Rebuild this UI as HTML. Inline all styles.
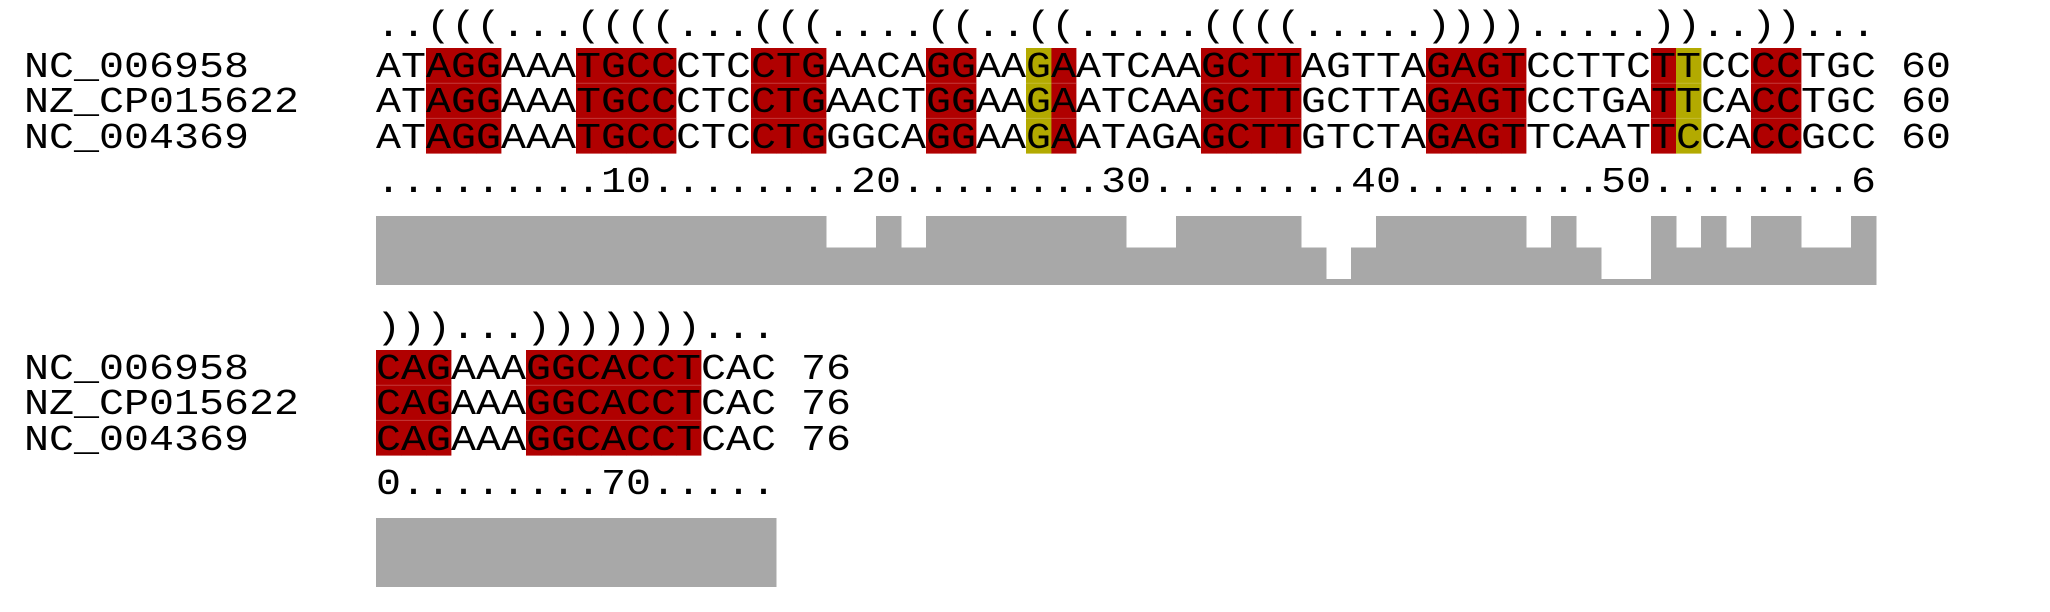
<!DOCTYPE html>
<html><head><meta charset="utf-8"><style>
html,body{margin:0;padding:0;background:#fff;width:2050px;height:612px;overflow:hidden}
text{font-family:"Liberation Mono","DejaVu Sans Mono",monospace;font-size:36px;fill:#000}
</style></head><body>
<svg id="chart" width="2050" height="612" viewBox="0 0 2050 612" xmlns="http://www.w3.org/2000/svg">
<g id="hl"></g>
<g id="cons"></g>
<g>
<text x="376" y="36" textLength="1500" lengthAdjust="spacingAndGlyphs">..(((...((((...(((....((..((.....((((.....)))).....))..))...</text>
<text x="24" y="77" textLength="225" lengthAdjust="spacingAndGlyphs">NC_006958</text>
<text x="24" y="112" textLength="275" lengthAdjust="spacingAndGlyphs">NZ_CP015622</text>
<text x="24" y="148" textLength="225" lengthAdjust="spacingAndGlyphs">NC_004369</text>
<text x="376" y="77" textLength="1575" lengthAdjust="spacingAndGlyphs">ATAGGAAATGCCCTCCTGAACAGGAAGAATCAAGCTTAGTTAGAGTCCTTCTTCCCCTGC 60</text>
<text x="376" y="112" textLength="1575" lengthAdjust="spacingAndGlyphs">ATAGGAAATGCCCTCCTGAACTGGAAGAATCAAGCTTGCTTAGAGTCCTGATTCACCTGC 60</text>
<text x="376" y="148" textLength="1575" lengthAdjust="spacingAndGlyphs">ATAGGAAATGCCCTCCTGGGCAGGAAGAATAGAGCTTGTCTAGAGTTCAATTCCACCGCC 60</text>
<text x="376" y="192" textLength="1500" lengthAdjust="spacingAndGlyphs">.........10........20........30........40........50........6</text>
</g>
<g>
<text x="376" y="338" textLength="400" lengthAdjust="spacingAndGlyphs">)))...)))))))...</text>
<text x="24" y="379" textLength="225" lengthAdjust="spacingAndGlyphs">NC_006958</text>
<text x="24" y="414" textLength="275" lengthAdjust="spacingAndGlyphs">NZ_CP015622</text>
<text x="24" y="450" textLength="225" lengthAdjust="spacingAndGlyphs">NC_004369</text>
<text x="376" y="379" textLength="475" lengthAdjust="spacingAndGlyphs">CAGAAAGGCACCTCAC 76</text>
<text x="376" y="414" textLength="475" lengthAdjust="spacingAndGlyphs">CAGAAAGGCACCTCAC 76</text>
<text x="376" y="450" textLength="475" lengthAdjust="spacingAndGlyphs">CAGAAAGGCACCTCAC 76</text>
<text x="376" y="494" textLength="400" lengthAdjust="spacingAndGlyphs">0........70.....</text>
</g>
</svg>
<script>
// column indices (1-based) of base-pair highlights
const redCols = [3,4,5,9,10,11,12,16,17,18,23,24,28,34,35,36,37,43,44,45,46,52,56,57,61,62,63,67,68,69,70,71,72,73];
const yellowCols = [27,53];
// conservation score per column: 3 = identical, 2 = two agree, 1 = all differ
const conservation = [3,3,3,3,3,3,3,3,3,3,3,3,3,3,3,3,3,3,2,2,3,2,3,3,3,3,3,3,3,3,2,2,3,3,3,3,3,2,1,2,3,3,3,3,3,3,2,3,2,1,1,3,2,3,2,3,3,2,2,3,
3,3,3,3,3,3,3,3,3,3,3,3,3,3,3,3];
const colsPerBlock = 60, colW = 25, x0 = 376;
const blockY = [0, 302];
const boxTop = 48, rowH = 35.2, nRows = 3;
const barBottom = 285;
function colX(c){ return x0 + ((c-1) % colsPerBlock) * colW; }
function colBlock(c){ return Math.floor((c-1)/colsPerBlock); }
function barH(v){ return 6 + (v-1)/2*63; }
const NS = 'http://www.w3.org/2000/svg';
const hl = document.getElementById('hl');
function addCell(c, color){
  const by = blockY[colBlock(c)];
  const r = document.createElementNS(NS,'rect');
  r.setAttribute('x', colX(c)); r.setAttribute('y', by+boxTop);
  r.setAttribute('width', colW+0.4); r.setAttribute('height', rowH*nRows);
  r.setAttribute('fill', color);
  
  
  hl.appendChild(r);
  for (let k=1;k<nRows;k++){
    const l = document.createElementNS(NS,'line');
    l.setAttribute('x1', colX(c)); l.setAttribute('x2', colX(c)+colW);
    l.setAttribute('y1', by+boxTop+k*rowH); l.setAttribute('y2', by+boxTop+k*rowH);
    l.setAttribute('stroke', color==='#b00000' ? '#c43a3a' : '#c4bb33'); l.setAttribute('stroke-width','1');
    
    
    hl.appendChild(l);
  }
}
redCols.forEach(c=>addCell(c,'#b00000'));
yellowCols.forEach(c=>addCell(c,'#b3aa00'));
const cons = document.getElementById('cons');
conservation.forEach((v,i)=>{
  const c = i+1, by = blockY[colBlock(c)], h = barH(v);
  const r = document.createElementNS(NS,'rect');
  r.setAttribute('x', colX(c)); r.setAttribute('y', by+barBottom-h);
  r.setAttribute('width', colW+0.5); r.setAttribute('height', h);
  r.setAttribute('fill', '#a8a8a8');
  
  
  cons.appendChild(r);
});
</script>
</body></html>
